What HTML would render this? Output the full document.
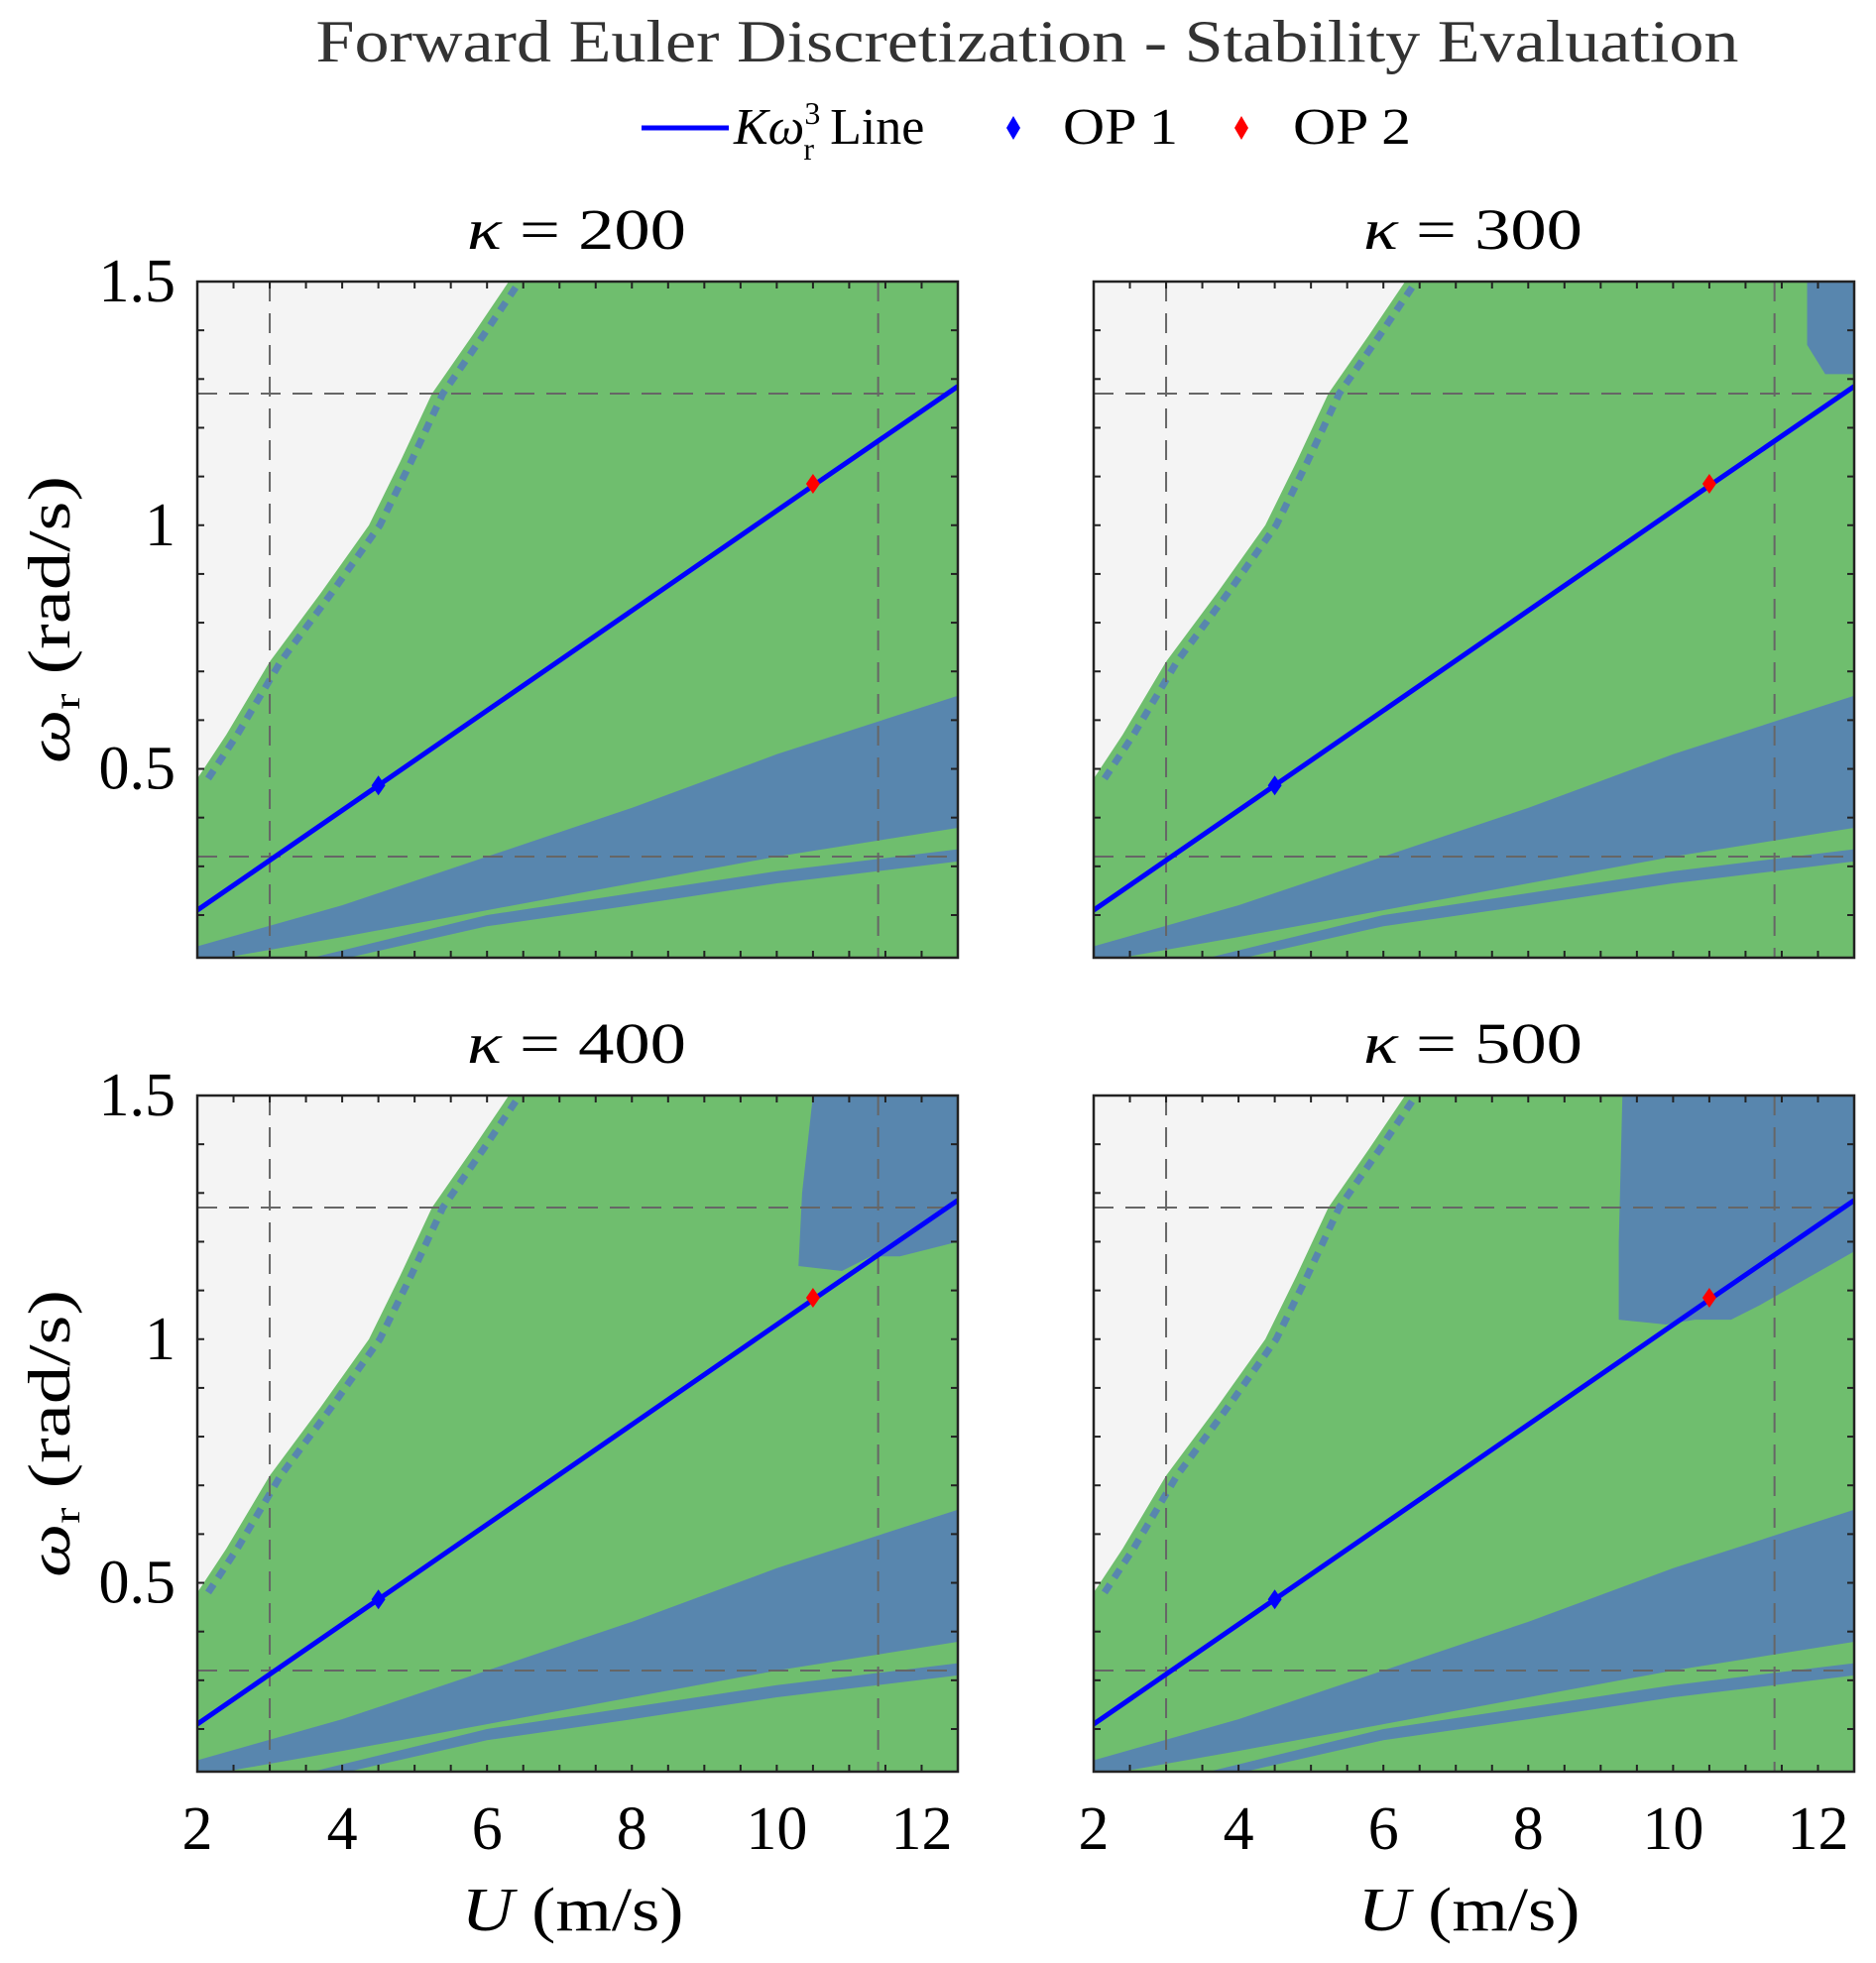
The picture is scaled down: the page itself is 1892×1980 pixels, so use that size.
<!DOCTYPE html>
<html><head><meta charset="utf-8"><style>
html,body{margin:0;padding:0;background:#fff}
svg text{font-family:"Liberation Serif",serif;fill:#000}
</style></head><body>
<svg id="fig" width="1892" height="1975" viewBox="0 0 1892 1975" xmlns="http://www.w3.org/2000/svg">
<text x="1036" y="62" font-size="60" text-anchor="middle" textLength="1435" lengthAdjust="spacingAndGlyphs" style="fill:#333">Forward Euler Discretization - Stability Evaluation</text>
<g>
<line x1="647" y1="129" x2="735" y2="129" stroke="#0000ff" stroke-width="5"/>
<text x="740" y="145" font-size="52"><tspan font-style="italic">Kω</tspan><tspan font-size="32" dy="-20">3</tspan><tspan font-size="32" dx="-17" dy="36">r</tspan><tspan dy="-16" dx="16">Line</tspan></text>
<polygon points="1022,117 1029,129 1022,141 1015,129" fill="#0000ff"/>
<text x="1072" y="145" font-size="52" textLength="116" lengthAdjust="spacingAndGlyphs">OP 1</text>
<polygon points="1252,117 1259,129 1252,141 1245,129" fill="#ff0000"/>
<text x="1304" y="145" font-size="52" textLength="119" lengthAdjust="spacingAndGlyphs">OP 2</text>
</g>
</svg>
<script>
const kappas=[200,300,400,500];
const xTickLabels=[2,4,6,8,10,12];
const yTickLabels=[0.5,1,1.5];
const lineU=[2,4.5,10.5,12.5];
const lineW=[0.21,0.466,1.081,1.285];
const op1=[4.5,0.466];
const op2=[10.5,1.085];
const vLines=[3,11.4];
const hLines=[1.27,0.32];
const whiteU=[2,2.4,3,3.7,4.37,4.8,5.24,5.8,6.3,2];
const whiteW=[0.48,0.57,0.72,0.86,1.0,1.13,1.27,1.39,1.5,1.5];
const bandTopU=[2,4,6,8,10,12.5];
const bandTopW=[0.136,0.22,0.32,0.42,0.53,0.65];
const bandBotU=[12.5,10,8,6,4,2.4,2];
const bandBotW=[0.379,0.32,0.265,0.21,0.155,0.113,0.113];
const stripeTopU=[3.6,6,8,10,12.5];
const stripeTopW=[0.113,0.2,0.245,0.29,0.335];
const stripeBotU=[12.5,10,8,6,4.1];
const stripeBotW=[0.31,0.265,0.22,0.177,0.113];
const patchU={300:[11.85,12.5,12.5,12.1,11.85],400:[10.5,12.5,12.5,11.7,11.3,10.9,10.3,10.35],500:[9.3,12.5,12.5,11.2,10.8,10.3,9.9,9.25,9.25]};
const patchW={300:[1.5,1.5,1.31,1.31,1.37],400:[1.5,1.5,1.2,1.17,1.17,1.14,1.15,1.3],500:[1.5,1.5,1.18,1.07,1.04,1.04,1.03,1.04,1.2]};
const svg=document.getElementById('fig');
const NS='http://www.w3.org/2000/svg';
const PW=767,PH=682,U0=2,U1=12.5,W0=0.1125,W1=1.5;
const origins=[[199,284],[1103,284],[199,1105],[1103,1105]];
function mk(tag,attrs,parent){const e=document.createElementNS(NS,tag);for(const k in attrs)e.setAttribute(k,attrs[k]);parent.appendChild(e);return e;}
kappas.forEach((k,i)=>{
  const [x0,y0]=origins[i];
  const X=u=>x0+(u-U0)/(U1-U0)*PW;
  const Y=w=>y0+(W1-w)/(W1-W0)*PH;
  const pts=(us,ws)=>us.map((u,j)=>X(u)+','+Y(ws[j])).join(' ');
  const g=mk('g',{},svg);
  
  
  const cid='clip'+i;
  const cp=mk('clipPath',{id:cid},g);mk('rect',{x:x0,y:y0,width:PW,height:PH},cp);
  const inner=mk('g',{'clip-path':'url(#'+cid+')'},g);
  const bg=mk('rect',{x:x0,y:y0,width:PW,height:PH,fill:'#6fbe6e'},inner);
  
  
  const wp=mk('polygon',{points:pts(whiteU,whiteW),fill:'#f4f4f4'},inner);
  
  
  const edge=mk('polyline',{points:pts(whiteU.slice(0,9).map(u=>u+0.15),whiteW.slice(0,9)),fill:'none',stroke:'#5886ae','stroke-width':7,'stroke-dasharray':'10 8'},inner);
  
  
  const band=mk('polygon',{points:pts(bandTopU.concat(bandBotU),bandTopW.concat(bandBotW)),fill:'#5886ae'},inner);
  
  
  const st=mk('polygon',{points:pts(stripeTopU.concat(stripeBotU),stripeTopW.concat(stripeBotW)),fill:'#5886ae'},inner);
  
  
  if(patchU[k]){const p=mk('polygon',{points:pts(patchU[k],patchW[k]),fill:'#5886ae'},inner);
    
    }
  vLines.forEach(u=>{const l=mk('line',{x1:X(u),x2:X(u),y1:y0,y2:y0+PH,stroke:'#666','stroke-width':2,'stroke-dasharray':'20 12'},inner);
    
    });
  hLines.forEach(w=>{const l=mk('line',{x1:x0,x2:x0+PW,y1:Y(w),y2:Y(w),stroke:'#666','stroke-width':2,'stroke-dasharray':'20 12'},inner);
    
    });
  const kl=mk('polyline',{points:pts(lineU,lineW),fill:'none',stroke:'#0000ff','stroke-width':5},inner);
  
  
  [[op1,'#0000ff','op1-marker'],[op2,'#ff0000','op2-marker']].forEach(([p,c,n])=>{const cx=X(p[0]),cy=Y(p[1]);
    const m=mk('polygon',{points:`${cx},${cy-10} ${cx+7},${cy} ${cx},${cy+10} ${cx-7},${cy}`,fill:c},inner);
    
    });
  for(let u=2;u<=12.01;u+=0.5){[y0,y0+PH].forEach((yy,s)=>mk('line',{x1:X(u),x2:X(u),y1:yy,y2:yy+(s?-7:7),stroke:'#222','stroke-width':2},g));}
  for(let w=0.2;w<=1.501;w+=0.1){[x0,x0+PW].forEach((xx,s)=>mk('line',{x1:xx,x2:xx+(s?-7:7),y1:Y(w),y2:Y(w),stroke:'#222','stroke-width':2},g));}
  const fr=mk('rect',{x:x0,y:y0,width:PW,height:PH,fill:'none',stroke:'#222','stroke-width':2.5},g);
  
  
  const t=mk('text',{x:x0+PW/2-1,y:y0-33,'font-size':58,'text-anchor':'middle',textLength:221,lengthAdjust:'spacingAndGlyphs'},g);
  
  
  t.innerHTML='<tspan font-style="italic">κ</tspan> = '+k;
  if(i%2===0){
    yTickLabels.forEach(w=>{const tl=mk('text',{x:x0-22,y:Y(w)+20,'font-size':62,'text-anchor':'end'},g);
      
      
      tl.textContent=String(w);});
    const yl=mk('text',{x:0,y:0,'font-size':60,'text-anchor':'middle',textLength:290,lengthAdjust:'spacingAndGlyphs',transform:`translate(70,${y0+PH/2}) rotate(-90)`},g);
    
    
    yl.innerHTML='<tspan font-style="italic">ω</tspan><tspan font-size="38" dy="10">r</tspan><tspan dy="-10">  (rad/s)</tspan>';
  }
  if(i>=2){
    xTickLabels.forEach(u=>{const tl=mk('text',{x:X(u),y:y0+PH+78,'font-size':62,'text-anchor':'middle'},g);
      
      
      tl.textContent=String(u);});
    const xl=mk('text',{x:x0+PW/2-5,y:y0+PH+160,'font-size':62,'text-anchor':'middle',textLength:224,lengthAdjust:'spacingAndGlyphs'},g);
    
    
    xl.innerHTML='<tspan font-style="italic">U</tspan>  (m/s)';
  }
});
</script>
</body></html>
